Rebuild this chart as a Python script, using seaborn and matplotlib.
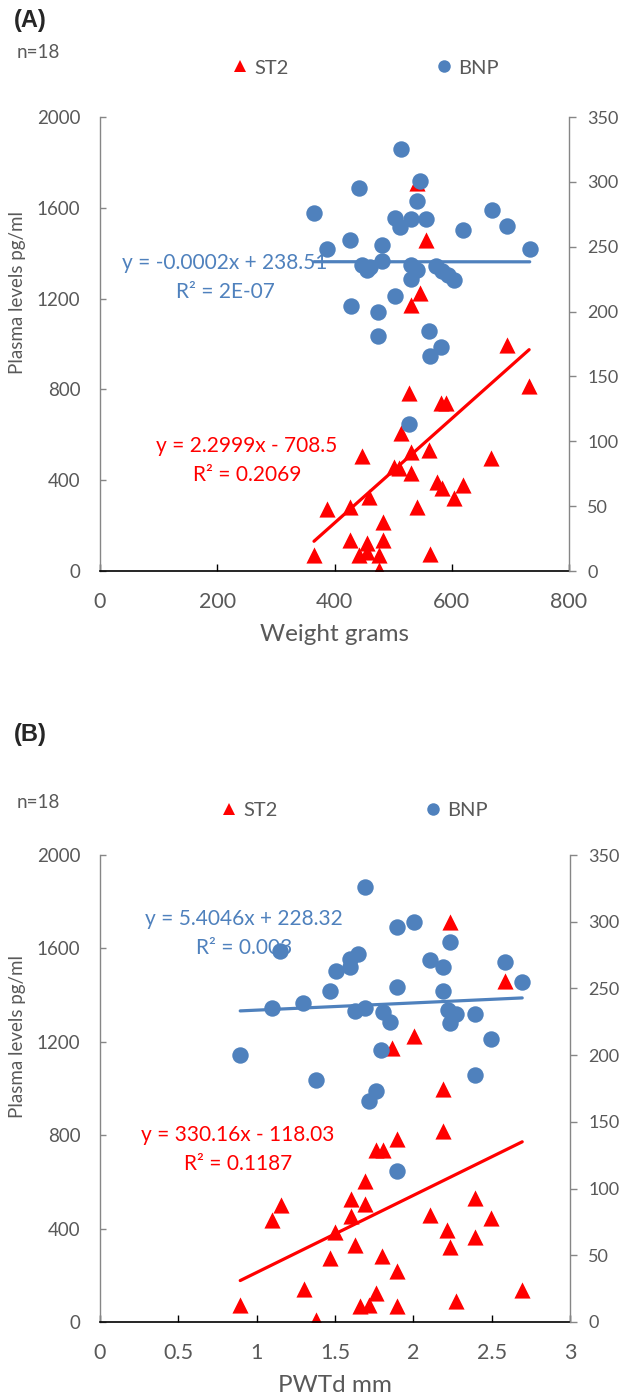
import matplotlib
matplotlib.use("Agg")
import matplotlib.pyplot as plt
from matplotlib.lines import Line2D
import seaborn as sns
import numpy as np
import pandas as pd

# ---- panel A: weight (g) ----
weight_st2 = [527, 581, 591, 732, 513, 447, 530, 561, 667, 501, 510, 530, 574, 583,
              620, 603, 459, 427, 388, 540, 482, 426, 455, 483, 442, 455, 476, 365,
              563, 476, 541, 556, 546, 531, 695]
st2_a = [783, 739, 739, 815, 607, 507, 526, 533, 496, 459, 452, 430, 393, 364,
         379, 320, 327, 283, 272, 283, 217, 137, 125, 137, 70, 85, 70, 70,
         75, 4, 1708, 1458, 1223, 1172, 996]
weight_bnp = [513, 442, 545, 365, 540, 503, 530, 556, 511, 668, 695, 620, 733, 387,
              426, 481, 447, 455, 461, 481, 530, 541, 530, 573, 584, 593, 603, 503,
              428, 475, 475, 562, 581, 563, 527]
bnp_a = [325, 295, 301, 276, 285, 272, 271, 271, 265, 278, 266, 263, 248, 248,
         255, 251, 236, 232, 234, 239, 236, 232, 225, 235, 231, 228, 224, 212,
         204, 200, 181, 185, 173, 166, 113]

# ---- panel B: PWTd (mm) ----
pwtd_st2 = [0.895, 1.378, 1.30, 1.097, 1.155, 1.465, 1.50, 1.60, 1.60, 1.63, 2.19, 2.19,
            1.896, 1.764, 1.806, 1.693, 1.693, 2.104, 2.396, 2.496, 2.215, 2.396, 2.236,
            1.80, 1.896, 1.764, 1.657, 1.72, 1.896, 2.275, 2.695, 2.236, 2.588, 2.006, 1.864]
st2_b = [72, 7, 140, 438, 500, 274, 384, 527, 453, 330, 998, 818,
         783, 738, 738, 603, 506, 460, 532, 446, 396, 366, 320,
         284, 219, 126, 69, 73, 69, 90, 136, 1713, 1459, 1223, 1173]
pwtd_bnp = [0.895, 1.097, 1.15, 1.295, 1.378, 1.465, 1.506, 1.593, 1.593, 1.65, 1.63, 1.693,
            1.693, 1.715, 1.764, 1.794, 1.806, 1.853, 1.896, 1.896, 1.896, 2.006, 2.104,
            2.19, 2.19, 2.22, 2.236, 2.236, 2.275, 2.396, 2.396, 2.496, 2.588, 2.695]
bnp_b = [200, 235, 278, 239, 181, 248, 263, 272, 266, 276, 233, 235,
         326, 166, 173, 204, 232, 225, 296, 251, 113, 300, 271,
         266, 248, 234, 285, 224, 231, 231, 185, 212, 270, 255]

# trend lines (Excel linear fits shown on the chart)
fit_st2_a = (2.2999, -708.5)
fit_bnp_a = (-0.0002, 238.51)
fit_st2_b = (330.16, -118.03)
fit_bnp_b = (5.4046, 228.32)
eq_st2_a = ["y = 2.2999x - 708.5", "R² = 0.2069"]
eq_bnp_a = ["y = -0.0002x + 238.51", "R² = 2E-07"]
eq_st2_b = ["y = 330.16x - 118.03", "R² = 0.1187"]
eq_bnp_b = ["y = 5.4046x + 228.32", "R² = 0.003"]

xticks_a = [0, 200, 400, 600, 800]
xticks_b = [0, 0.5, 1, 1.5, 2, 2.5, 3]
xticklabels_b = ["0", "0.5", "1", "1.5", "2", "2.5", "3"]
left_ticks = [0, 400, 800, 1200, 1600, 2000]
right_ticks = [0, 50, 100, 150, 200, 250, 300, 350]

RED = "#FF0000"
BLUE = "#4F81BD"
TXT = "#595959"
AXG = "#868686"
W, H = 623, 1395

sns.set_style("white")
plt.rcParams["font.family"] = ["Lato", "DejaVu Sans"]

fig = plt.figure(figsize=(W / 100, H / 100), dpi=100)


def rect(l, t, r, b):
    return [l / W, 1 - b / H, (r - l) / W, (b - t) / H]


def trend(xs, coef):
    xx = np.array([min(xs), max(xs)])
    return pd.DataFrame({"x": xx, "y": coef[0] * xx + coef[1]})


def panel(box, xs1, ys1, xs2, ys2, f1, f2, e1, e2, xlim, xticks, xticklabels,
          xlabel, tag, ytag, tag_y, leg_y, leg_x, eq_pos, ylab_y):
    ax = fig.add_axes(rect(*box))
    ax2 = ax.twinx()

    sns.scatterplot(x=xs1, y=ys1, marker="^", color=RED, s=135, linewidth=0, ax=ax)
    t1 = trend(xs1, f1)
    sns.lineplot(data=t1, x="x", y="y", color=RED, lw=2.3, ax=ax)
    sns.scatterplot(x=xs2, y=ys2, marker="o", color=BLUE, s=140, linewidth=0, ax=ax2)
    t2 = trend(xs2, f2)
    sns.lineplot(data=t2, x="x", y="y", color=BLUE, lw=2.3, ax=ax2)

    ax.set_xlim(*xlim)
    ax.set_ylim(0, 2000)
    ax2.set_ylim(0, 350)
    ax.set_xticks(xticks)
    ax.set_xticklabels(xticklabels)
    ax.set_yticks(left_ticks)
    ax2.set_yticks(right_ticks)
    ax.set_xlabel(xlabel, fontsize=17.5, color=TXT, labelpad=9)
    ax.set_ylabel("")
    ax2.set_ylabel("")

    for a in (ax, ax2):
        for s in a.spines.values():
            s.set_visible(False)
    ax.spines["left"].set_visible(True)
    ax.spines["left"].set_color(AXG)
    ax.spines["left"].set_linewidth(1.0)
    ax.spines["bottom"].set_visible(True)
    ax.spines["bottom"].set_color("black")
    ax.spines["bottom"].set_linewidth(1.2)
    ax2.spines["right"].set_visible(True)
    ax2.spines["right"].set_color(AXG)
    ax2.spines["right"].set_linewidth(1.0)

    ax.tick_params(axis="y", direction="in", length=4, width=1, color=AXG,
                   labelcolor=TXT, labelsize=13.5, pad=14, left=True)
    ax.tick_params(axis="x", direction="in", length=5, width=1, color="black",
                   labelcolor=TXT, labelsize=15.5, pad=15, bottom=True)
    ax2.tick_params(axis="y", direction="out", length=5, width=1, color=AXG,
                    labelcolor=TXT, labelsize=13, pad=8, right=True)

    # equations
    (ex1, ey1), (ex2, ey2) = eq_pos
    for i, line in enumerate(e1):
        fig.text(ex1 / W, 1 - (ey1 + 29 * i) / H, line, color=RED, fontsize=15,
                 ha="center", va="center")
    for i, line in enumerate(e2):
        fig.text(ex2 / W, 1 - (ey2 + 29 * i) / H, line, color=BLUE, fontsize=15,
                 ha="center", va="center")

    fig.text(18 / W, 1 - ylab_y / H, "Plasma levels pg/ml", rotation=90, color=TXT,
             fontsize=13.5, ha="center", va="center")
    fig.text(14 / W, 1 - tag_y / H, tag, fontsize=17, fontweight="bold",
             family=["Liberation Sans", "DejaVu Sans"], ha="left", va="center")
    fig.text(17 / W, 1 - ytag / H, "n=18", fontsize=13.5, color=TXT, ha="left", va="center")

    handles = [Line2D([], [], marker="^", color=RED, ls="none", ms=9, mew=0),
               Line2D([], [], marker="o", color=BLUE, ls="none", ms=9, mew=0)]
    fig.legend(handles=handles, labels=["ST2", "BNP"], ncol=2, frameon=False,
               loc="center left", bbox_to_anchor=(leg_x / W, 1 - leg_y / H),
               fontsize=14.5, labelcolor=TXT, handlelength=0.6, handletextpad=0.4,
               columnspacing=7.4, borderaxespad=0, borderpad=0)
    return ax


panel((100, 117, 569, 571), weight_st2, st2_a, weight_bnp, bnp_a,
      fit_st2_a, fit_bnp_a, eq_st2_a, eq_bnp_a, (0, 800), xticks_a,
      [str(v) for v in xticks_a], "Weight grams", "(A)", 53, 20, 68, 234,
      ((247, 446), (225, 263)), 292)

panel((100, 855, 570, 1322), pwtd_st2, st2_b, pwtd_bnp, bnp_b,
      fit_st2_b, fit_bnp_b, eq_st2_b, eq_bnp_b, (0, 3), xticks_b,
      xticklabels_b, "PWTd mm", "(B)", 802, 735, 810, 223,
      ((238, 1135), (244, 919)), 1036)

fig.savefig("out.png", dpi=100, facecolor="white")
